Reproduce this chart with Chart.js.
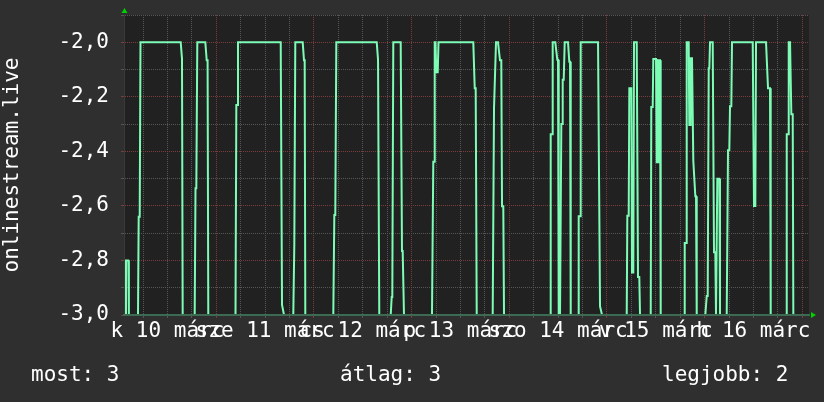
<!DOCTYPE html>
<html>
<head>
<meta charset="utf-8">
<script src="https://cdn.jsdelivr.net/npm/chart.js@4.4.1/dist/chart.umd.min.js"></script>
<style>
  html, body { margin: 0; padding: 0; background: #2f2f2f; }
  canvas { display: block; }
</style>
</head>
<body>
<canvas id="chart" width="824" height="402"></canvas>
<script>
// time in hours since 10 March 00:00, one line per on/off burst
const hours = [
  1.57, 1.81, 2.38, 2.52,
  4.76, 4.93, 5.18, 5.37, 15.25, 15.57, 15.74,
  18.69, 18.89, 19.09, 19.33, 21.30, 21.64, 21.86, 22.03,
  28.72, 28.92, 29.16, 29.33, 39.83, 40.15, 40.64,
  42.92, 43.17, 43.41, 45.23, 45.55, 45.72, 45.87,
  52.75, 53.00, 53.24, 53.49, 63.42, 63.74, 63.91, 64.05,
  66.86, 67.10, 67.25, 67.49, 69.31, 69.63, 69.80, 70.12,
  77.00, 77.32, 77.50, 77.67, 77.86, 78.06, 78.41, 78.60, 87.15, 87.50, 87.74, 87.99,
  91.92, 92.24, 92.48, 92.73, 93.22, 93.71, 94.03, 94.21, 94.52, 94.70,
  106.00, 106.17, 106.49, 106.66, 107.30, 107.79, 107.97, 108.14,
  108.46, 108.78, 108.95, 109.12, 109.37, 109.61, 110.42, 110.74, 110.92, 111.09,
  112.88, 113.05, 113.37, 113.54, 117.80, 118.29, 118.78,
  124.85, 125.00, 125.34, 125.49, 125.98, 126.15, 126.47, 126.64, 127.31, 127.62, 127.94, 128.12,
  130.75, 130.89, 131.24, 131.38, 132.05, 132.22, 132.54, 132.71, 133.03, 133.20,
  138.93, 139.10, 139.42, 139.59, 140.08, 140.23, 140.40, 140.57, 140.89, 141.21, 141.71, 141.88, 142.05,
  144.16, 144.51, 144.75, 145.00, 145.15, 145.32, 145.98, 146.30, 146.62, 146.79,
  146.96, 147.11, 147.60, 147.77,
  149.42, 149.74, 150.06, 150.23, 150.55, 150.72, 155.81, 156.13, 156.45, 156.62, 159.08, 159.57, 160.06, 160.23,
  163.99, 164.17, 164.48, 164.66, 164.98, 165.30, 165.64, 165.79, 169.8,
];

const values = [
  -3.0, -2.8, -2.8, -3.0,
  -3.0, -2.64, -2.64, -2.0, -2.0, -2.06, -3.0,
  -3.0, -2.535, -2.535, -2.0, -2.0, -2.066, -2.066, -3.0,
  -3.0, -2.23, -2.23, -2.0, -2.0, -2.963, -3.0,
  -3.0, -2.74, -2.0, -2.0, -2.066, -2.066, -3.0,
  -3.0, -2.633, -2.633, -2.0, -2.0, -2.064, -2.064, -3.0,
  -3.0, -2.934, -2.934, -2.0, -2.0, -2.765, -2.765, -3.0,
  -3.0, -2.438, -2.438, -2.0, -2.0, -2.11, -2.11, -2.0, -2.0, -2.169, -2.169, -3.0,
  -3.0, -2.242, -2.242, -2.0, -2.0, -2.066, -2.066, -2.601, -2.601, -3.0,
  -3.0, -2.337, -2.337, -2.0, -2.0, -2.064, -2.064, -3.0,
  -3.0, -2.30, -2.30, -2.137, -2.137, -2.0, -2.0, -2.071, -2.071, -3.0,
  -3.0, -2.638, -2.638, -2.0, -2.0, -2.968, -3.0,
  -3.0, -2.636, -2.636, -2.169, -2.169, -2.844, -2.844, -2.0, -2.0, -2.861, -2.861, -3.0,
  -3.0, -2.237, -2.237, -2.061, -2.061, -2.44, -2.44, -2.066, -2.066, -3.0,
  -3.0, -2.736, -2.736, -2.0, -2.0, -2.303, -2.303, -2.059, -2.059, -2.434, -2.565, -2.565, -3.0,
  -3.0, -2.93, -2.93, -2.095, -2.095, -2.0, -2.0, -2.77, -2.77, -3.0,
  -3.0, -2.5, -2.5, -3.0,
  -3.0, -2.396, -2.396, -2.235, -2.235, -2.0, -2.0, -2.60, -2.60, -2.0, -2.0, -2.169, -2.169, -3.0,
  -3.0, -2.337, -2.337, -2.0, -2.0, -2.264, -2.264, -3.0, -3.0,
];

const yTicks = [-3.0, -2.9, -2.8, -2.7, -2.6, -2.5, -2.4, -2.3, -2.2, -2.1, -2.0, -1.9];
const xTicks = [6, 12, 18, 24, 30, 36, 42, 48, 54, 60, 66, 72, 78, 84, 90, 96, 102, 108,
  114, 120, 126, 132, 138, 144, 150, 156, 162, 168];
const dayLabels = ["k 10 márc", "sze 11 márc", "cs 12 márc", "p 13 márc", "szo 14 márc", "v 15 márc", "h 16 márc"];
const summaryLabels = ["most: 3", "átlag: 3", "legjobb: 2"];
const yTitle = "onlinestream.live";

const FONT = { family: "'DejaVu Sans Mono', monospace", size: 21 };
const GRID_MINOR = "#565656";
const GRID_MAJOR = "#7a3c3c";

const points = hours.map((h, i) => ({ x: h, y: values[i] }));

const xLabel = (v) => (v % 24 === 12 ? dayLabels[(v - 12) / 24] : "");
const yLabel = (v) => {
  const tenth = Math.round(v * 10);
  return tenth % 2 === 0 ? (tenth / 10).toFixed(1).replace(".", ",") : "";
};

const rrdLook = {
  id: "rrdLook",
  beforeDraw(chart) {
    const { ctx, chartArea: a } = chart;
    ctx.save();
    ctx.fillStyle = "#2f2f2f";
    ctx.fillRect(0, 0, chart.width, chart.height);
    ctx.fillStyle = "#212121";
    ctx.fillRect(a.left, a.top, a.right - a.left, a.bottom - a.top);
    ctx.restore();
  },
  afterDraw(chart) {
    const { ctx, chartArea: a } = chart;
    ctx.save();
    // axis arrows
    ctx.fillStyle = "#00d200";
    ctx.beginPath();
    ctx.moveTo(a.left - 2.5, a.top - 2);
    ctx.lineTo(a.left + 3.5, a.top - 2);
    ctx.lineTo(a.left + 0.5, a.top - 7);
    ctx.fill();
    ctx.beginPath();
    ctx.moveTo(a.right + 2, a.bottom - 3);
    ctx.lineTo(a.right + 2, a.bottom + 3);
    ctx.lineTo(a.right + 7, a.bottom);
    ctx.fill();
    // summary line
    ctx.fillStyle = "#ffffff";
    ctx.font = `${FONT.size}px ${FONT.family}`;
    ctx.textBaseline = "alphabetic";
    ctx.textAlign = "left";
    ctx.fillText(summaryLabels[0], 31, 381);
    ctx.fillText(summaryLabels[1], 340, 381);
    ctx.fillText(summaryLabels[2], 662, 381);
    ctx.restore();
  },
};

new Chart(document.getElementById("chart"), {
  type: "line",
  data: {
    datasets: [
      {
        data: points,
        borderColor: "#7dfcb6",
        borderWidth: 2,
        pointRadius: 0,
        tension: 0,
        fill: false,
      },
    ],
  },
  options: {
    responsive: false,
    animation: false,
    layout: { padding: { top: 15, right: 15, left: 0, bottom: 0 } },
    plugins: { legend: { display: false }, tooltip: { enabled: false } },
    scales: {
      x: {
        type: "linear",
        min: 1.32,
        max: 169.64,
        afterBuildTicks: (s) => {
          s.ticks = xTicks.map((v) => ({ value: v }));
        },
        afterFit: (s) => {
          s.height = 87;
          s.paddingLeft = 0;
          s.paddingRight = 0;
        },
        grid: {
          color: (c) => (c.tick && c.tick.value % 24 === 0 ? GRID_MAJOR : GRID_MINOR),
          tickLength: 3,
        },
        border: { dash: [1, 1], color: "#3c6a52", width: 2, z: 1 },
        ticks: {
          autoSkip: false,
          maxRotation: 0,
          minRotation: 0,
          padding: 1,
          color: "#ffffff",
          font: FONT,
          callback: (v) => xLabel(v),
        },
      },
      y: {
        type: "linear",
        min: -3.0,
        max: -1.9,
        afterBuildTicks: (s) => {
          s.ticks = yTicks.map((v) => ({ value: v }));
        },
        afterFit: (s) => {
          s.width = 124;
          s.paddingTop = 0;
          s.paddingBottom = 0;
        },
        grid: {
          color: (c) => (c.tick && Math.round(c.tick.value * 10) % 2 === 0 ? GRID_MAJOR : GRID_MINOR),
          tickLength: 3,
        },
        border: { dash: [1, 1], color: "#3a3a3a", width: 1 },
        ticks: {
          autoSkip: false,
          padding: 12,
          color: "#ffffff",
          font: FONT,
          callback: (v) => yLabel(v),
        },
        title: {
          display: true,
          text: yTitle,
          color: "#ffffff",
          font: FONT,
          padding: { top: 0, bottom: 0 },
        },
      },
    },
  },
  plugins: [rrdLook],
});
</script>
</body>
</html>
